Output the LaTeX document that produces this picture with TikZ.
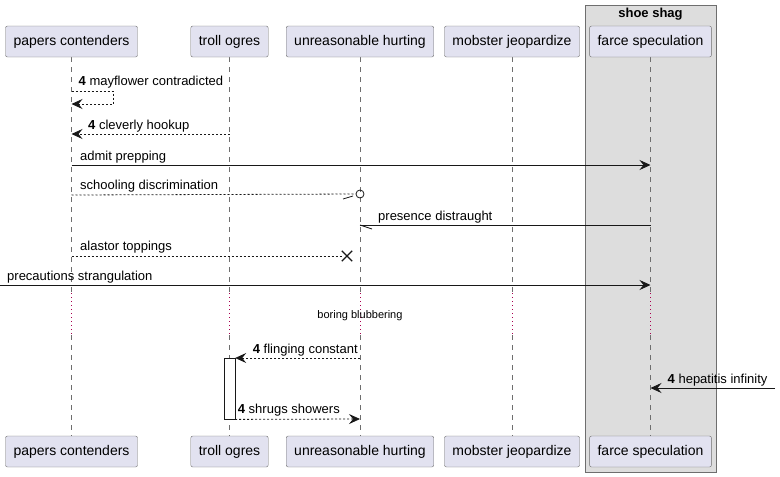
\documentclass[tikz,border=0pt]{standalone}
\usepackage{fontspec}
\setmainfont{Liberation Sans}
\usetikzlibrary{arrows.meta, positioning, backgrounds, shapes.misc}
\definecolor{UMLfill}{RGB}{226,226,240}
\definecolor{UMLline}{RGB}{24,24,24}
\definecolor{UMLbox}{RGB}{110,110,110}
\definecolor{UMLgroup}{RGB}{221,221,221}
\definecolor{UMLdelay}{RGB}{170,0,80}

\begin{document}
\begin{tikzpicture}[x=1pt, y=-1pt,
		actor/.style={shape=rectangle, draw=UMLbox, fill=UMLfill, rounded corners=2pt, minimum height=31pt, inner xsep=8pt, font=\fontsize{14}{16}\selectfont},
		life/.style={draw=UMLbox, dash pattern=on 5pt off 5pt, line width=0.5pt},
		pause/.style={draw=UMLdelay, dash pattern=on 1pt off 3pt, line width=1pt},
		msg/.style={draw=UMLline, line width=0.8pt},
		reply/.style={msg, dash pattern=on 2pt off 2pt},
		arrowtip/.style={-{Stealth[length=11pt, width=10pt, inset=4pt]}},
		lbl/.style={anchor=base west, inner sep=0pt, font=\fontsize{13}{15}\selectfont},
	]
		\useasboundingbox (0,0) rectangle (780,477);

		% Participants
		\node[actor] (pc) at (71.5,41.5) {papers contenders};
		\node[actor] (to) at (229.5,41.5) {troll ogres};
		\node[actor] (uh) at (360,41.5) {unreasonable hurting};
		\node[actor] (mj) at (512,41.5) {mobster jeopardize};
		\node[actor] (fs) at (650.5,41.5) {farce speculation};
		\node[actor] (pcb) at (71.5,451.5) {papers contenders};
		\node[actor] (tob) at (229.5,451.5) {troll ogres};
		\node[actor] (uhb) at (360,451.5) {unreasonable hurting};
		\node[actor] (mjb) at (512,451.5) {mobster jeopardize};
		\node[actor] (fsb) at (650.5,451.5) {farce speculation};

		% rows
		\coordinate (r1) at (0,91);
		\coordinate (r1b) at (113,104);
		\coordinate (r2) at (0,134);
		\coordinate (r3) at (0,165);
		\coordinate (r4) at (0,195);
		\coordinate (r5) at (0,225);
		\coordinate (r6) at (0,256);
		\coordinate (r7) at (0,285);
		\coordinate (d1) at (0,293);
		\coordinate (d2) at (0,335);
		\coordinate (r9) at (0,358);
		\coordinate (r11) at (775,388);
		\coordinate (r12) at (0,419);

		% group and lifelines
		\begin{scope}[on background layer]
			\node[shape=rectangle, draw=UMLbox, fill=UMLgroup, minimum width=131pt, minimum height=467pt, anchor=north west] (grp) at (585,5) {};
			\node[font=\bfseries\fontsize{13}{15}\selectfont, inner sep=0pt] (grpt) at (650.5,14) {shoe shag};
			\foreach \p in {pc,to,uh,mj,fs} {
				\draw[life] (\p.south) -- (\p |- d1);
				\draw[pause] (\p |- d1) -- (\p |- d2);
				\draw[life] (\p |- d2) -- (\p b.north);
			}
		\end{scope}

		% activation
		\node[shape=rectangle, draw=UMLline, fill=white, minimum width=11pt, minimum height=61pt, inner sep=0pt, anchor=north] (act) at (to |- r9) {};

		% messages
		\draw[reply, arrowtip] (pc |- r1) -| (r1b) -- (pc |- r1b);
		\node[lbl] at ([xshift=7pt, yshift=6pt]pc |- r1) {\textbf{4} mayflower contradicted};

		\draw[reply, arrowtip] (to |- r2) -- (pc |- r2);
		\node[lbl] at ([xshift=16.5pt, yshift=5pt]pc |- r2) {\textbf{4} cleverly hookup};

		\draw[msg, arrowtip] (pc |- r3) -- (fs |- r3);
		\node[lbl] at ([xshift=8.5pt, yshift=5pt]pc |- r3) {admit prepping};

		\node[shape=circle, draw=UMLline, line width=0.8pt, minimum size=8pt, inner sep=0pt] (o4) at ([yshift=1pt]uh |- r4) {};
		\draw[reply] (pc |- r4) -- (o4);
		\draw[msg] ([xshift=-7pt, yshift=-1pt]uh |- r4) -- ([xshift=-17pt, yshift=-4pt]uh |- r4);
		\node[lbl] at ([xshift=8.5pt, yshift=5.5pt]pc |- r4) {schooling discrimination};

		\draw[msg] (fs |- r5) -- (uh |- r5);
		\draw[msg] (uh |- r5) -- ([xshift=12pt, yshift=-4pt]uh |- r5);
		\node[lbl] at ([xshift=18pt, yshift=5pt]uh |- r5) {presence distraught};

		\node[shape=cross out, draw=UMLline, line width=1.3pt, minimum size=9pt, inner sep=0pt] (x6) at ([xshift=-13pt]uh |- r6) {};
		\draw[reply] (pc |- r6) -- (x6);
		\node[lbl] at ([xshift=8.5pt, yshift=6pt]pc |- r6) {alastor toppings};

		\draw[msg, arrowtip] (r7) -- (fs |- r7);
		\node[lbl] at ([xshift=7pt, yshift=5pt]r7) {precautions strangulation};

		\node[font=\fontsize{11}{13}\selectfont, inner sep=0pt] (delay) at ([yshift=-31pt]uh |- r7) {boring blubbering};

		\draw[reply, arrowtip] (uh |- r9) -- (act.north east);
		\node[lbl] at ([xshift=17.5pt, yshift=5pt]act.north east) {\textbf{4} flinging constant};

		\draw[msg, arrowtip] (r11) -- (fs |- r11);
		\node[lbl] at ([xshift=17pt, yshift=5pt]fs |- r11) {\textbf{4} hepatitis infinity};

		\draw[reply, arrowtip] (act.south east) -- (uh |- r12);
		\node[lbl] at ([xshift=2.5pt, yshift=5.5pt]act.south east) {\textbf{4} shrugs showers};
	\end{tikzpicture}
\end{document}
